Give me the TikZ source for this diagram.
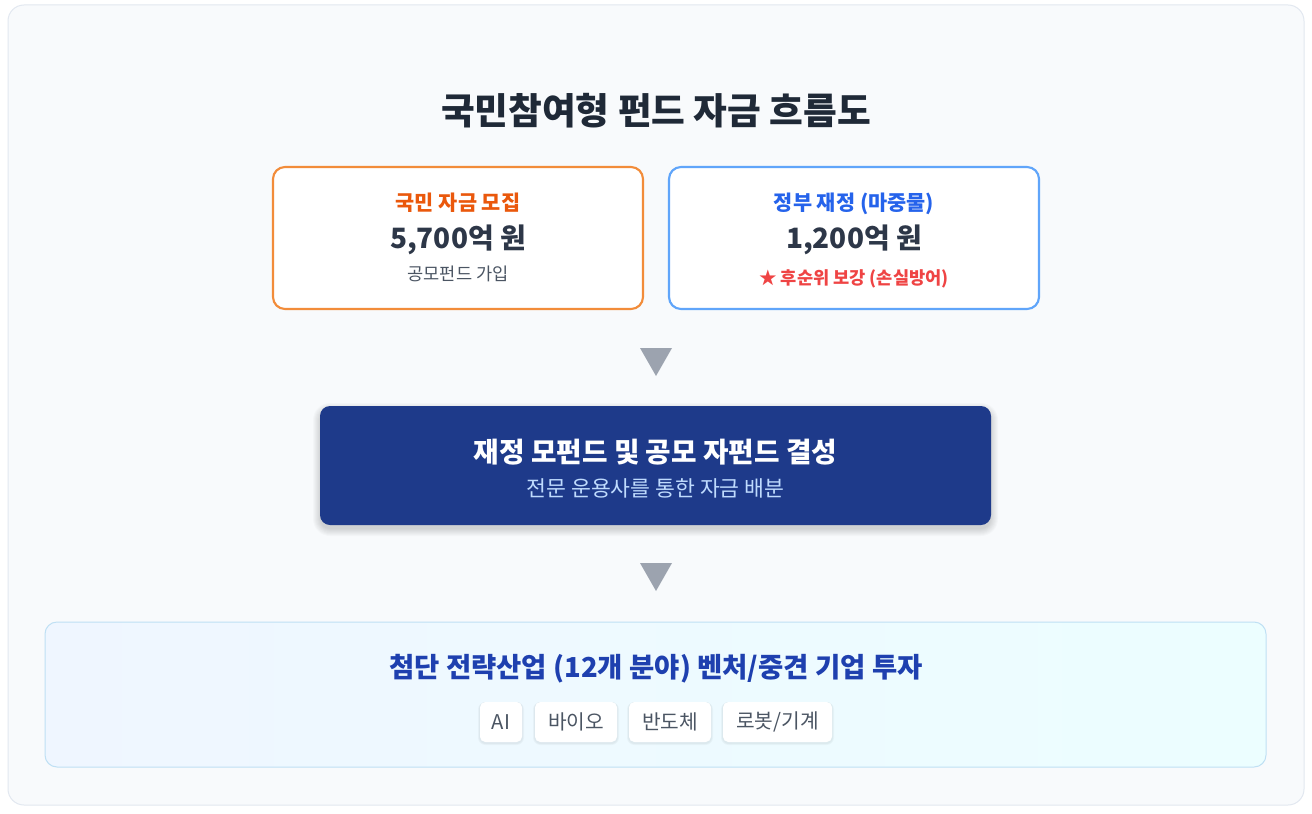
\documentclass[tikz,border=0pt]{standalone}
\usepackage{fontspec}
\setmainfont{Noto Sans CJK KR}
\definecolor{panelbg}{HTML}{F8FAFC}
\definecolor{panelline}{HTML}{E2E8F0}
\definecolor{titlecol}{HTML}{1F2937}
\definecolor{orangeline}{HTML}{F28C3A}
\definecolor{orangetext}{HTML}{EA580C}
\definecolor{blueline}{HTML}{60A5FA}
\definecolor{bluetext}{HTML}{2563EB}
\definecolor{amountcol}{HTML}{2D3748}
\definecolor{subgray}{HTML}{4B5563}
\definecolor{redtext}{HTML}{EF4444}
\definecolor{navy}{HTML}{1E3A8A}
\definecolor{navysub}{HTML}{BFDBFE}
\definecolor{arrowgray}{HTML}{9CA3AF}
\definecolor{gradleft}{HTML}{EFF6FF}
\definecolor{gradright}{HTML}{ECFEFF}
\definecolor{bottomline}{HTML}{BFE0F4}
\definecolor{bottomtitle}{HTML}{1E40AF}
\definecolor{chiptext}{HTML}{4B5563}
\tikzset{
  srcbox/.style={rectangle, rounded corners=9pt, fill=white, line width=1.6pt, inner sep=0pt},
  txt/.style={inner sep=0pt, anchor=center},
  chip/.style={rectangle, rounded corners=4pt, fill=white, inner sep=0pt, minimum height=30pt,
    text=chiptext, font=\fontsize{15.2}{17}\selectfont},
  tri/.style={fill=arrowgray},
  softshadow/.style={fill=black, opacity=0.018},
}
\begin{document}
\begin{tikzpicture}[x=0.75pt,y=-0.75pt]
\useasboundingbox (0,0) rectangle (1312,813);
\fill[white] (0,0) rectangle (1312,813);
\node[rectangle, rounded corners=12pt, fill=panelbg, draw=panelline, line width=0.75pt,
  minimum width=972pt, minimum height=600pt, inner sep=0pt] (panel) at (656,405) {};
% title
\node[txt, text=titlecol, font=\fontsize{27.5}{32}\selectfont\bfseries] (title) at (656,111) {국민참여형 펀드 자금 흐름도};
% source boxes
\node[srcbox, draw=orangeline, minimum width=277.5pt, minimum height=106.5pt] (citizen) at (458,238) {};
\node[srcbox, draw=blueline, minimum width=277.5pt, minimum height=106.5pt] (gov) at (854,238) {};
\node[txt, text=orangetext, font=\fontsize{15.6}{18}\selectfont\bfseries] (cith) at (458,203) {국민 자금 모집};
\node[txt, text=amountcol, font=\fontsize{21}{24}\selectfont\bfseries] (cita) at (458,239.5) {5,700억 원};
\node[txt, text=subgray, font=\fontsize{13.2}{15}\selectfont] (cits) at (458,273.5) {공모펀드 가입};
\node[txt, text=bluetext, font=\fontsize{15.6}{18}\selectfont\bfseries] (govh) at (854,203.5) {정부 재정 (마중물)};
\node[txt, text=amountcol, font=\fontsize{21}{24}\selectfont\bfseries] (gova) at (854,239.5) {1,200억 원};
\node[txt, text=redtext, font=\fontsize{13.2}{15}\selectfont\bfseries] (govs) at (854,278.5) {★ 후순위 보강 (손실방어)};
% arrow 1
\fill[tri] (640,348) -- (672,348) -- (656,376) -- cycle;
% middle box shadow
\foreach \i in {0,...,7} {
  \pgfmathsetmacro{\rc}{7.5+0.75*\i}
  \fill[softshadow, rounded corners=\rc pt] (320-\i,410-\i) rectangle (991+\i,529+\i);
}
\node[rectangle, rounded corners=7.5pt, fill=navy, minimum width=503.25pt, minimum height=89.25pt, inner sep=0pt] (fund) at (655.5,465.5) {};
\node[txt, text=white, font=\fontsize{20.8}{24}\selectfont\bfseries] (fundt) at (655.5,452) {재정 모펀드 및 공모 자펀드 결성};
\node[txt, text=navysub, font=\fontsize{16.2}{19}\selectfont] (funds) at (655.5,488.5) {전문 운용사를 통한 자금 배분};
% arrow 2
\fill[tri] (640,563) -- (672,563) -- (656,591) -- cycle;
% bottom box
\node[rectangle, rounded corners=9pt, left color=gradleft, right color=gradright, draw=bottomline, line width=0.75pt,
  minimum width=915.75pt, minimum height=108.75pt, inner sep=0pt] (invest) at (655.5,694.5) {};
\node[txt, text=bottomtitle, font=\fontsize{20.6}{24}\selectfont\bfseries] (investt) at (656,668.5) {첨단 전략산업 (12개 분야) 벤처/중견 기업 투자};
% chip shadows
\foreach \xa/\xb in {480/522, 535/617, 629/711, 723/832} {
  \fill[black, opacity=0.035, rounded corners=5pt] (\xa-1,702) rectangle (\xb+1,744);
  \fill[black, opacity=0.03, rounded corners=5.5pt] (\xa-2,702) rectangle (\xb+2,745);
}
\node[chip, minimum width=31.5pt] (c1) at (501,722) {AI};
\node[chip, minimum width=61.5pt] (c2) at (576,722) {바이오};
\node[chip, minimum width=61.5pt] (c3) at (670,722) {반도체};
\node[chip, minimum width=81.75pt] (c4) at (777.5,722) {로봇/기계};
\end{tikzpicture}
\end{document}
